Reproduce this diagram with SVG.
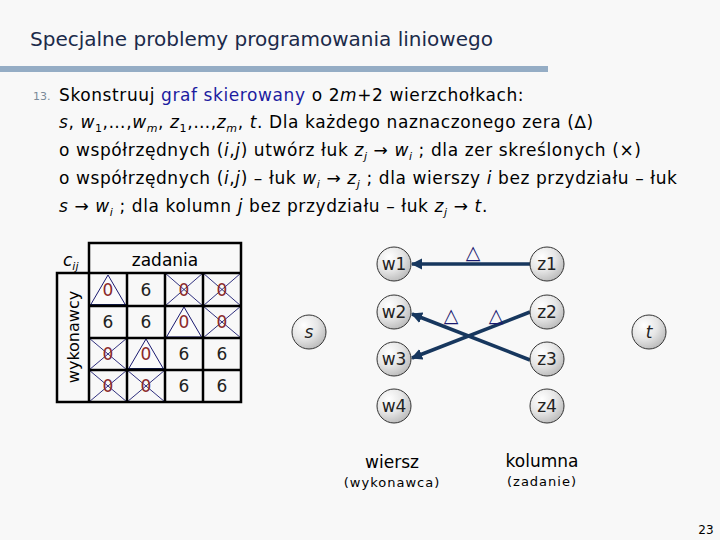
<svg xmlns="http://www.w3.org/2000/svg" width="720" height="540" viewBox="0 0 720 540">
<defs>
<radialGradient id="ng" cx="0.35" cy="0.3" r="0.8">
<stop offset="0" stop-color="#ffffff"/>
<stop offset="0.5" stop-color="#e6e6e6"/>
<stop offset="1" stop-color="#b4b4b4"/>
</radialGradient>
<marker id="ah" viewBox="0 0 10 10" refX="9" refY="5" markerWidth="3.2" markerHeight="3.2" orient="auto">
<path d="M0,0 L10,5 L0,10 z" fill="#17375e"/>
</marker>
</defs>
<style>
text{font-family:"DejaVu Sans","Liberation Sans",sans-serif;}
.title{font-size:19px;fill:#1b2a4a;}
.body{font-size:17px;fill:#000;letter-spacing:0.6px;}
.it{font-style:italic;}
.sub{font-size:11px;}
.blue{fill:#1c1ca0;}
.grid{stroke:#000;stroke-width:2.5;fill:none;stroke-linecap:square;}
.cell{font-size:17px;text-anchor:middle;}
.six{fill:#222;}
.zero{fill:#8b2a2a;}
.tri{fill:#fbfbfb;stroke:#1a1a70;stroke-width:1;}
.xl{stroke:#1a1a70;stroke-width:0.9;}
.mk{stroke:#141e50;stroke-width:3;}
.node circle{fill:url(#ng);stroke:#333;stroke-width:1;}
.node text{font-size:17px;fill:#222;text-anchor:middle;}
.edge{stroke:#17375e;stroke-width:3.5;fill:none;marker-end:url(#ah);}
.dl{font-size:19px;fill:#1a1a70;text-anchor:middle;}
.cap{font-size:17px;fill:#000;text-anchor:middle;}
.cap2{font-size:13px;fill:#000;text-anchor:middle;letter-spacing:1px;}
</style>
<rect width="720" height="540" fill="#f8f8f8"/>
<text class="title" x="30" y="46" textLength="463" lengthAdjust="spacingAndGlyphs">Specjalne problemy programowania liniowego</text>
<rect x="0" y="66" width="548" height="6" fill="#95adc5"/>

<text x="33" y="100" font-size="11" fill="#7a8a99">13.</text>
<text class="body" x="59" y="101">Skonstruuj <tspan class="blue">graf skierowany</tspan> o 2<tspan class="it">m</tspan>+2 wierzchołkach:</text>
<text class="body" x="59" y="128"><tspan class="it">s</tspan>, <tspan class="it">w</tspan><tspan class="sub" dy="4">1</tspan><tspan dy="-4">,…,</tspan><tspan class="it">w</tspan><tspan class="sub it" dy="4">m</tspan><tspan dy="-4">, </tspan><tspan class="it">z</tspan><tspan class="sub" dy="4">1</tspan><tspan dy="-4">,…,</tspan><tspan class="it">z</tspan><tspan class="sub it" dy="4">m</tspan><tspan dy="-4">, </tspan><tspan class="it">t</tspan>. Dla każdego naznaczonego zera (∆)</text>
<text class="body" x="59" y="156">o współrzędnych (<tspan class="it">i</tspan>,<tspan class="it">j</tspan>) utwórz łuk  <tspan class="it">z</tspan><tspan class="sub it" dy="4">j</tspan><tspan dy="-4"> → </tspan><tspan class="it">w</tspan><tspan class="sub it" dy="4">i</tspan><tspan dy="-4"> ; dla zer skreślonych (×)</tspan></text>
<text class="body" x="59" y="184">o współrzędnych (<tspan class="it">i</tspan>,<tspan class="it">j</tspan>) – łuk  <tspan class="it">w</tspan><tspan class="sub it" dy="4">i</tspan><tspan dy="-4"> → </tspan><tspan class="it">z</tspan><tspan class="sub it" dy="4">j</tspan><tspan dy="-4"> ; dla wierszy </tspan><tspan class="it">i</tspan> bez przydziału – łuk</text>
<text class="body" x="59" y="212"><tspan class="it">s</tspan> → <tspan class="it">w</tspan><tspan class="sub it" dy="4">i</tspan><tspan dy="-4"> ; dla kolumn </tspan><tspan class="it">j</tspan> bez przydziału – łuk <tspan class="it">z</tspan><tspan class="sub it" dy="4">j</tspan><tspan dy="-4"> → </tspan><tspan class="it">t</tspan>.</text>

<g id="table">
<text x="63" y="266" font-size="17" class="it">c<tspan class="sub" dy="4">ij</tspan></text>
<text x="165" y="266" font-size="17" text-anchor="middle">zadania</text>
<text transform="translate(79,337) rotate(-90)" font-size="16" text-anchor="middle">wykonawcy</text>
<polygon class="tri" points="90.5,305 108,275 125.5,305"/>
<polygon class="tri" points="166.5,337 184,307 201.5,337"/>
<polygon class="tri" points="128.5,369 146,339 163.5,369"/>
<line class="mk" x1="89" y1="305.5" x2="127" y2="305.5"/>
<line class="mk" x1="127" y1="369.5" x2="165" y2="369.5"/>
<g class="xl">
<line x1="165" y1="273" x2="203" y2="306"/><line x1="203" y1="273" x2="165" y2="306"/>
<line x1="203" y1="273" x2="241" y2="306"/><line x1="241" y1="273" x2="203" y2="306"/>
<line x1="203" y1="306" x2="241" y2="338"/><line x1="241" y1="306" x2="203" y2="338"/>
<line x1="89" y1="338" x2="127" y2="370"/><line x1="127" y1="338" x2="89" y2="370"/>
<line x1="89" y1="370" x2="127" y2="402"/><line x1="127" y1="370" x2="89" y2="402"/>
<line x1="127" y1="370" x2="165" y2="402"/><line x1="165" y1="370" x2="127" y2="402"/>
</g>
<path class="grid" d="M89,243 H241 V402 H57 V273 H241 M89,243 V402 M127,273 V402 M165,273 V402 M203,273 V402 M89,306 H241 M89,338 H241 M89,370 H241"/>
<g class="cell">
<text class="zero" x="108" y="296">0</text><text class="six" x="146" y="296">6</text><text class="zero" x="184" y="296">0</text><text class="zero" x="222" y="296">0</text>
<text class="six" x="108" y="328">6</text><text class="six" x="146" y="328">6</text><text class="zero" x="184" y="328">0</text><text class="zero" x="222" y="328">0</text>
<text class="zero" x="108" y="360">0</text><text class="zero" x="146" y="360">0</text><text class="six" x="184" y="360">6</text><text class="six" x="222" y="360">6</text>
<text class="zero" x="108" y="392">0</text><text class="zero" x="146" y="392">0</text><text class="six" x="184" y="392">6</text><text class="six" x="222" y="392">6</text>
</g>
</g>

<g id="connectors">
<line class="edge" x1="530" y1="264" x2="412" y2="264"/>
<line class="edge" x1="530" y1="360" x2="412" y2="314"/>
<line class="edge" x1="530" y1="312" x2="412" y2="358"/>
<text class="dl" x="473" y="259">△</text>
<text class="dl" x="451" y="322">△</text>
<text class="dl" x="496" y="322">△</text>
</g>

<g id="node-s" class="node"><circle cx="309" cy="332" r="17"/><text x="309" y="338" class="it">s</text></g>
<g id="node-t" class="node"><circle cx="649" cy="332" r="17"/><text x="649" y="338" class="it">t</text></g>
<g id="node-w1" class="node"><circle cx="394" cy="264" r="17"/><text x="394" y="270">w1</text></g>
<g id="node-w2" class="node"><circle cx="394" cy="312" r="17"/><text x="394" y="318">w2</text></g>
<g id="node-w3" class="node"><circle cx="394" cy="359" r="17"/><text x="394" y="365">w3</text></g>
<g id="node-w4" class="node"><circle cx="394" cy="406" r="17"/><text x="394" y="412">w4</text></g>
<g id="node-z1" class="node"><circle cx="547" cy="264" r="17"/><text x="547" y="270">z1</text></g>
<g id="node-z2" class="node"><circle cx="547" cy="312" r="17"/><text x="547" y="318">z2</text></g>
<g id="node-z3" class="node"><circle cx="547" cy="359" r="17"/><text x="547" y="365">z3</text></g>
<g id="node-z4" class="node"><circle cx="547" cy="406" r="17"/><text x="547" y="412">z4</text></g>

<text class="cap" x="392" y="468">wiersz</text>
<text class="cap2" x="392" y="487">(wykonawca)</text>
<text class="cap" x="542" y="467">kolumna</text>
<text class="cap2" x="542" y="486">(zadanie)</text>
<text x="706" y="534" font-size="12" text-anchor="middle">23</text>
</svg>
